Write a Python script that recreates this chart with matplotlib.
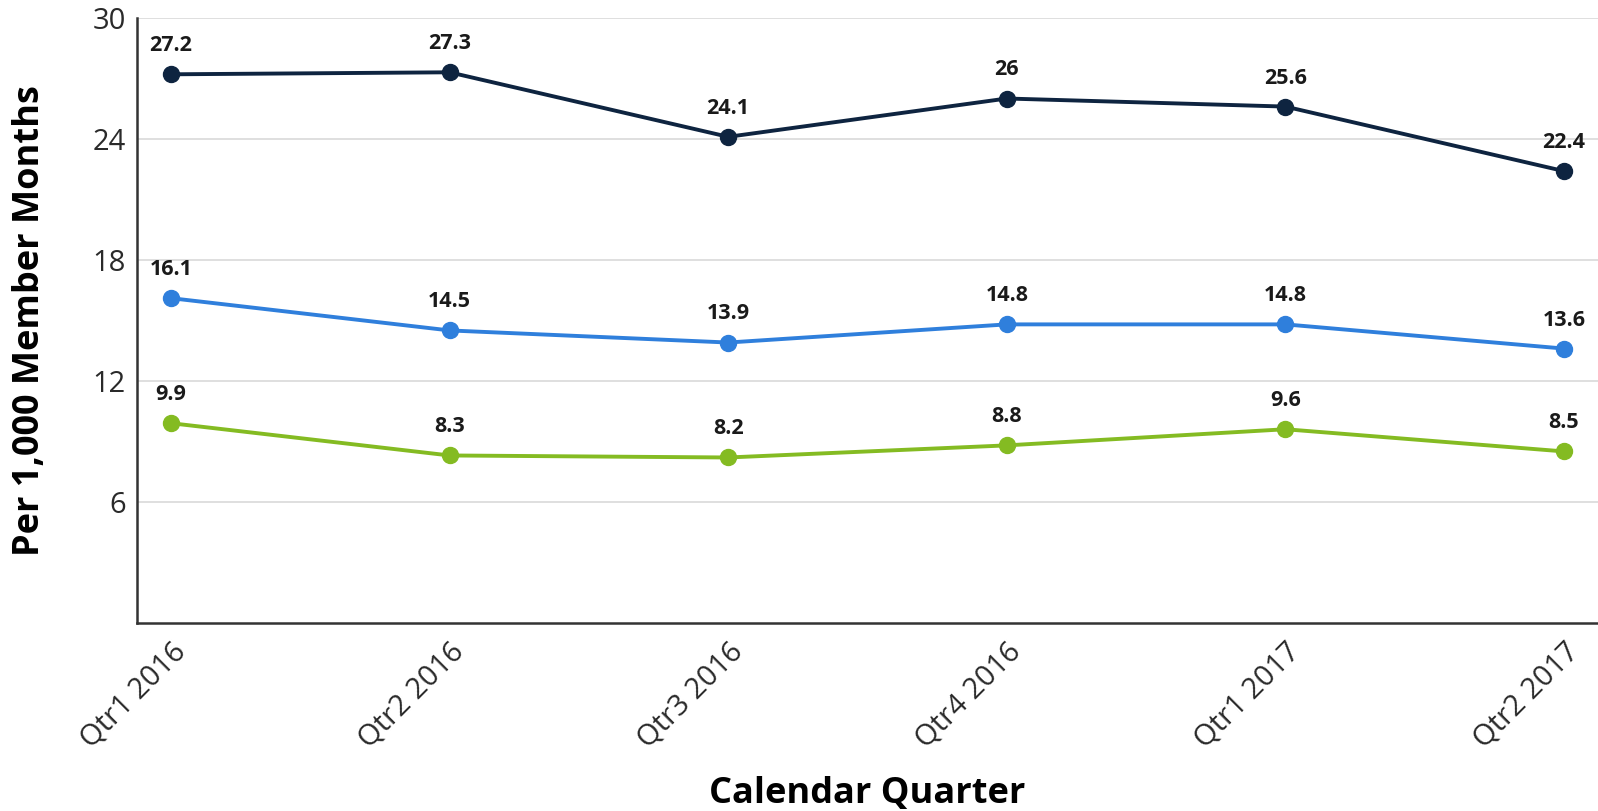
import matplotlib.pyplot as plt

# Datos por trimestre (por 1,000 meses de miembro)
quarters = ["Qtr1 2016", "Qtr2 2016", "Qtr3 2016", "Qtr4 2016", "Qtr1 2017", "Qtr2 2017"]
serie_total = [27.2, 27.3, 24.1, 26, 25.6, 22.4]
serie_media = [16.1, 14.5, 13.9, 14.8, 14.8, 13.6]
serie_baja = [9.9, 8.3, 8.2, 8.8, 9.6, 8.5]
y_ticks = [6, 12, 18, 24, 30]

colores = ["#0e2440", "#2f7fdc", "#84bb22"]

plt.rcParams['font.family'] = ['Open Sans', 'DejaVu Sans']

fig = plt.figure(figsize=(15.98, 8.11), dpi=100)
ax = fig.add_axes([0.0857, 0.232, 0.9143, 0.746])

x = list(range(len(quarters)))
for serie, color in zip([serie_total, serie_media, serie_baja], colores):
    ax.plot(x, serie, color=color, linewidth=2.8, marker='o', markersize=11.5, zorder=3)
    for xi, v in zip(x, serie):
        ax.annotate(f"{v:g}", (xi, v), xytext=(0, 13), textcoords='offset points',
                    ha='center', va='bottom', fontsize=15.5, fontweight='bold', color='#1a1a1a')

ax.set_xlim(-0.122, 5.122)
ax.set_ylim(0, 30)
ax.set_yticks(y_ticks)
ax.set_xticks(x)
ax.set_xticklabels(quarters, rotation=45, ha='right', va='top', rotation_mode='anchor')
ax.tick_params(axis='both', length=0, labelsize=21, colors='#2a2a2a')
ax.tick_params(axis='y', pad=8)
ax.tick_params(axis='x', pad=10)

ax.grid(axis='y', color='#d9d9d9', linewidth=1.2)
ax.set_axisbelow(True)
for lado in ['top', 'right']:
    ax.spines[lado].set_visible(False)
for lado in ['left', 'bottom']:
    ax.spines[lado].set_color('#333333')
    ax.spines[lado].set_linewidth(1.8)

ax.set_ylabel("Per 1,000 Member Months", fontsize=26, fontweight='bold', labelpad=32)
ax.set_xlabel("Calendar Quarter", fontsize=26, fontweight='bold', labelpad=16)

fig.savefig("out.png", dpi=100)
